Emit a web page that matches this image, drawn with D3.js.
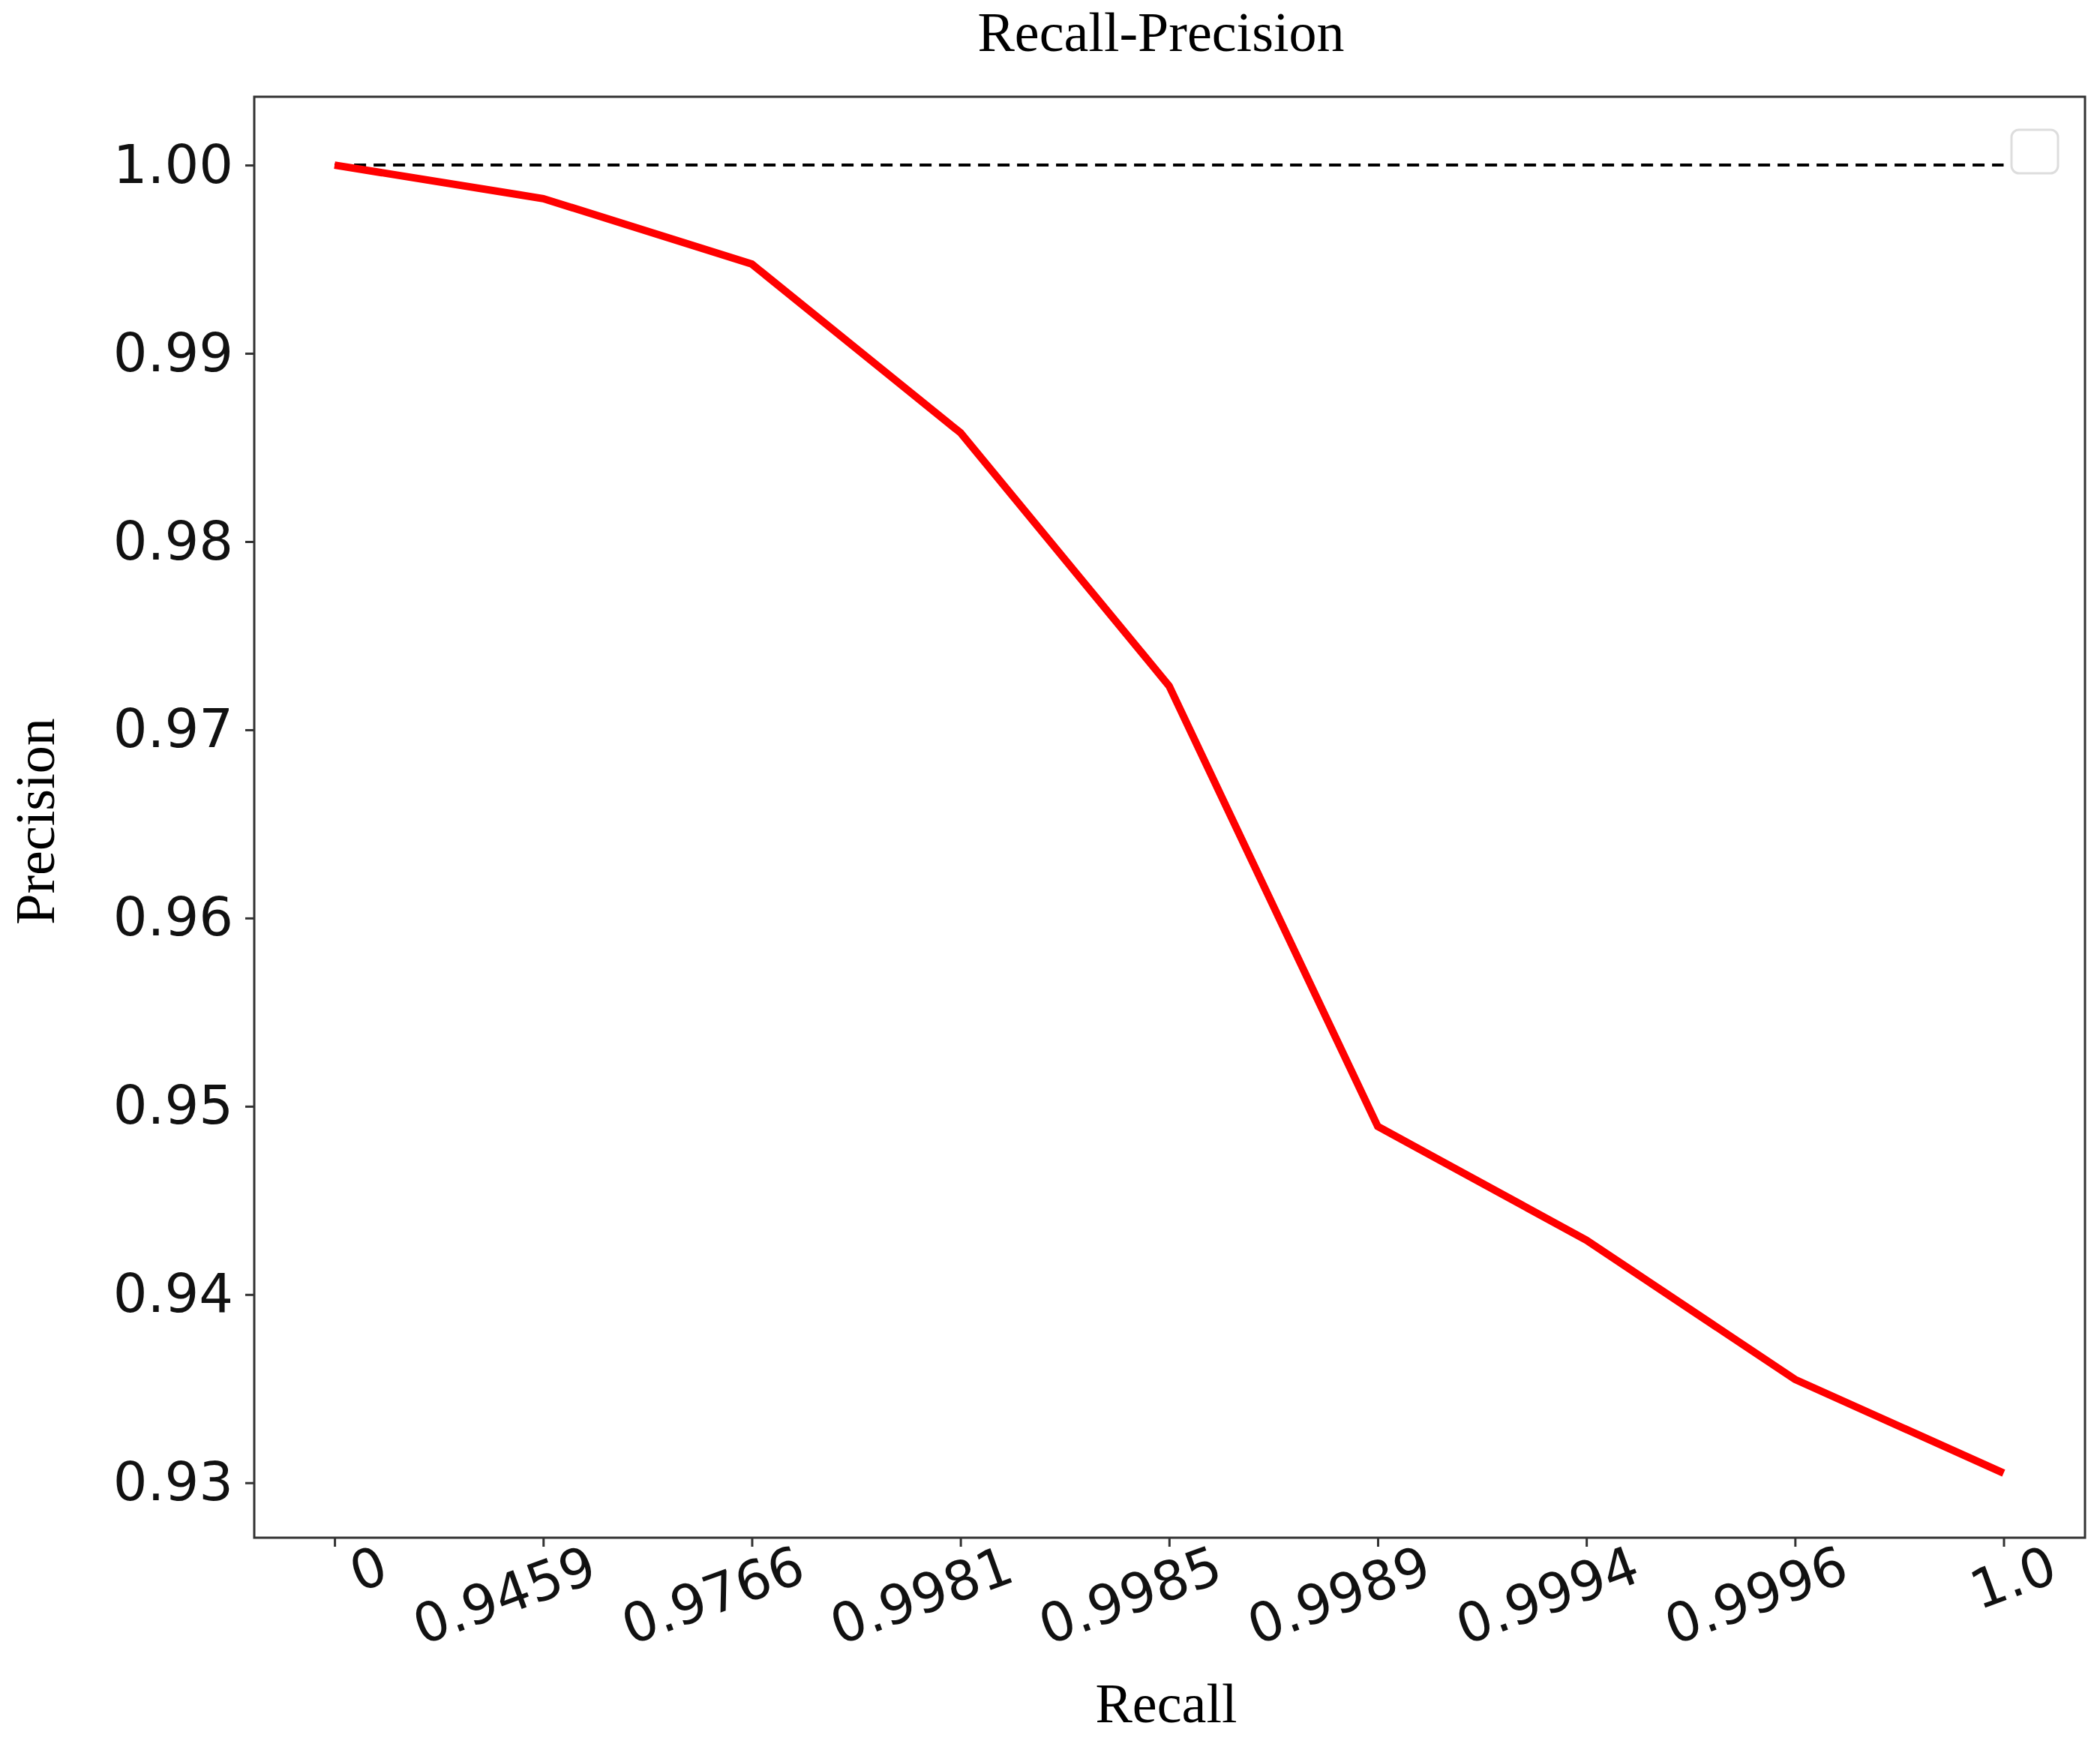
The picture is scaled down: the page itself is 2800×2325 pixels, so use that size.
<!DOCTYPE html>
<html>
<head>
<meta charset="utf-8">
<script src="https://cdn.jsdelivr.net/npm/d3@7"></script>
<style>body{margin:0;background:#fff}</style>
</head>
<body>
<script>
var recall = ["0","0.9459","0.9766","0.9981","0.9985","0.9989","0.9994","0.9996","1.0"];
var precision = [1.000,0.99822,0.99474,0.98578,0.97233,0.94893,0.94289,0.93549,0.93051];
var yTicks = [0.93,0.94,0.95,0.96,0.97,0.98,0.99,1.00];

var W = 2800, H = 2325;
var m = {l:339, r:20, t:129, b:275};
var svg = d3.select("body").append("svg").attr("width",W).attr("height",H);

var x = d3.scaleLinear().domain([-0.385,8.39]).range([m.l, W-m.r]);
var y = d3.scaleLinear().domain([0.92708,1.00363]).range([H-m.b, m.t]);

svg.append("rect").attr("x",m.l).attr("y",m.t).attr("width",W-m.r-m.l).attr("height",H-m.b-m.t)
  .attr("fill","none").attr("stroke","#333").attr("stroke-width",3);

var ya = svg.append("g").attr("transform","translate("+m.l+",0)")
  .call(d3.axisLeft(y).tickValues(yTicks).tickFormat(d3.format(".2f")).tickSize(12).tickPadding(16));
ya.select(".domain").remove();
ya.selectAll("line").attr("stroke","#333").attr("stroke-width",3);
ya.selectAll("text").attr("font-family","DejaVu Sans").attr("font-size",72).attr("fill","#111");

var xa = svg.append("g").attr("transform","translate(0,"+(H-m.b)+")")
  .call(d3.axisBottom(x).tickValues(d3.range(recall.length)).tickFormat(function(i){return recall[i];}).tickSize(12).tickPadding(6));
xa.select(".domain").remove();
xa.selectAll("line").attr("stroke","#333").attr("stroke-width",3);
xa.selectAll("text").attr("font-family","DejaVu Sans").attr("font-size",72).attr("fill","#111")
  .attr("text-anchor","end").attr("dy","0.85em").attr("dx","0.7em")
  .attr("transform","rotate(-20)");

svg.append("line").attr("x1",x(0)).attr("x2",x(8)).attr("y1",y(1)).attr("y2",y(1))
  .attr("stroke","#000").attr("stroke-width",4).attr("stroke-dasharray","16,10");

svg.append("path").datum(precision)
  .attr("d", d3.line().x(function(d,i){return x(i);}).y(function(d){return y(d);}))
  .attr("fill","none").attr("stroke","#ff0000").attr("stroke-width",10);

svg.append("rect").attr("x",2682).attr("y",173).attr("width",62).attr("height",58).attr("rx",10)
  .attr("fill","#fff").attr("stroke","#ddd").attr("stroke-width",3);

svg.append("text").attr("x",1548).attr("y",68).attr("text-anchor","middle")
  .attr("font-family","Liberation Serif").attr("font-size",74).text("Recall-Precision");
svg.append("text").attr("x",1555).attr("y",2296).attr("text-anchor","middle")
  .attr("font-family","Liberation Serif").attr("font-size",74).text("Recall");
svg.append("text").attr("transform","translate(72,1095) rotate(-90)").attr("text-anchor","middle")
  .attr("font-family","Liberation Serif").attr("font-size",74).text("Precision");
</script>
</body>
</html>
